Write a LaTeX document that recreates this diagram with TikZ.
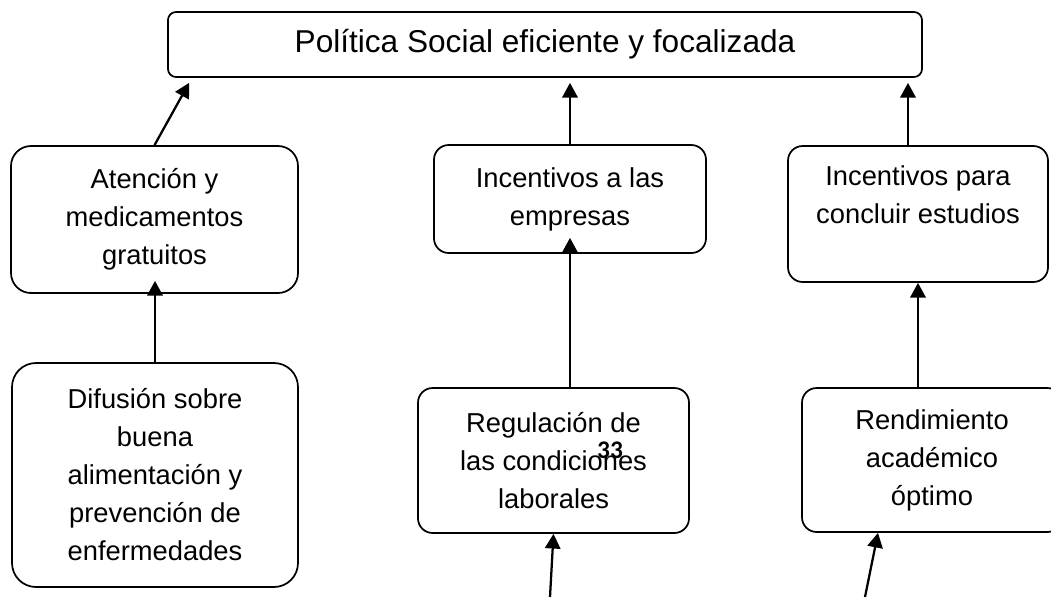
\documentclass[tikz,border=0pt]{standalone}
\usepackage{fontspec}
\setmainfont{Liberation Sans}
\newfontfamily\calibri{Carlito}
\usepackage{tikz}
\usetikzlibrary{arrows.meta}
\tikzset{>={Triangle[length=11pt, width=11.5pt]}}

\begin{document}
\begin{tikzpicture}[
	x=0.75pt, y=-0.75pt,
	box/.style = {
		rectangle, draw,
		rounded corners=11pt,
		line width=1.3pt,
		align=center,
		inner sep=0pt,
		font=\fontsize{20.5}{28.5}\selectfont
	},
	link/.style = {
		->, line width=1.7pt
	},
	pagenum/.style = {
		font=\calibri\bfseries\fontsize{19}{19}\selectfont
	}
]
	\useasboundingbox (0,0) rectangle (1051,597);
	\clip (0,0) rectangle (1051,597);
	% Goal
	\node[box, minimum width=565.5pt, minimum height=48.75pt,
		rounded corners=6pt, font=\fontsize{23.7}{28.5}\selectfont]
		(politica) at (545,44.5) {Política Social eficiente y focalizada};
	% Middle row
	\node[box, minimum width=215.25pt, minimum height=110.25pt,
		rounded corners=15pt]
		(atencion) at (154.5,219.5) {Atención y\\medicamentos\\gratuitos};
	\node[box, minimum width=204pt, minimum height=81pt]
		(empresas) at (570,199) {Incentivos a las\\empresas};
	\node[box, minimum width=195pt, minimum height=102pt]
		(estudios) at (918,214) {Incentivos para\\concluir estudios\\\mbox{}};
	% Bottom row
	\node[box, minimum width=214.5pt, minimum height=168pt,
		rounded corners=18pt]
		(difusion) at (155,475) {Difusión sobre\\buena\\alimentación y\\prevención de\\enfermedades};
	\node[box, minimum width=203.25pt, minimum height=108.75pt]
		(regulacion) at (553.5,460.5) {Regulación de\\las condiciones\\laborales};
	\node[box, minimum width=195pt, minimum height=108pt]
		(rendimiento) at (932,460) {Rendimiento\\académico\\óptimo};
	\node[pagenum] (pagina) at (610,450) {33};
	%
	\coordinate (inicioE) at (550,597);
	\coordinate (inicioF) at (865,597);
	% Connections
	\draw[link] (atencion.north) -- ([xshift=16.5pt, yshift=-3.75pt]politica.south west);
	\draw[link, shorten >=3.75pt] (empresas.north) -- (empresas.north |- politica.south);
	\draw[link, shorten >=3.75pt] ([xshift=-7.5pt]estudios.north) -- ([xshift=-7.5pt]estudios.north |- politica.south);
	\draw[link, shorten >=-9.75pt] (difusion.north) -- (difusion.north |- atencion.south);
	\draw[link, shorten >=-12pt] (empresas.south |- regulacion.north) -- (empresas.south);
	\draw[link] (estudios.south |- rendimiento.north) -- (estudios.south);
	\draw[link] (inicioE) -- (regulacion.south);
	\draw[link] (inicioF) -- ([xshift=-40.5pt]rendimiento.south);
\end{tikzpicture}
\end{document}
